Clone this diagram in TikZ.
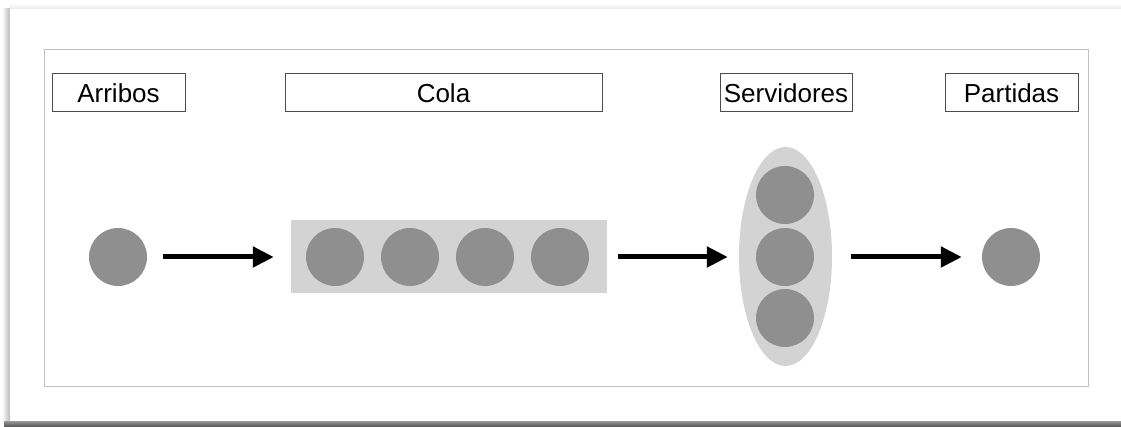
\documentclass[tikz,border=0pt]{standalone}
\usepackage{fontspec}
\setmainfont{Liberation Sans}
\usetikzlibrary{arrows.meta,shapes.geometric}
\definecolor{dotgray}{HTML}{8F8F8F}
\definecolor{lightgray}{HTML}{D3D3D3}
\definecolor{framegray}{HTML}{C0C0C0}
\tikzset{
  label box/.style={draw=black!70, line width=0.8pt, rectangle, minimum height=38pt,
    inner sep=0pt, text height=21pt, text depth=0pt,
    font=\fontsize{26}{30}\selectfont},
  dot/.style={circle, fill=dotgray, minimum size=58pt, inner sep=0pt},
  flow/.style={line width=5pt, -{Triangle[length=21pt,width=20pt]}},
}
\begin{document}
\begin{tikzpicture}[x=1pt,y=-1pt]
\useasboundingbox (0,0) rectangle (1121,427);
% background and page shadow
\fill[white] (0,0) rectangle (1121,427);
\shade[left color=white, right color=black!28] (2,9) rectangle (10,421);
\shade[top color=white, bottom color=black!8] (10,3) rectangle (1121,9);
\shade[top color=black!40, bottom color=black!68] (4,421) rectangle (1121,427);
\fill[white] (10,9) rectangle (1121,421);
% inner frame
\draw[framegray, line width=0.9pt] (44,49) rectangle (1088,386);
% labels
\node[label box, minimum width=133pt] (arribos) at (118.5,92) {Arribos};
\node[label box, minimum width=317pt] (cola) at (443.5,92) {Cola};
\node[label box, minimum width=132pt] (servidores) at (786,92) {Servidores};
\node[label box, minimum width=133pt] (partidas) at (1011.5,92) {Partidas};
% arrival
\node[dot] (arr) at (118,257) {};
% queue
\node[rectangle, fill=lightgray, minimum width=316pt, minimum height=73pt, inner sep=0pt] (queue) at (449,256.5) {};
\node[dot] (q1) at (335,257) {};
\node[dot] (q2) at (410,257) {};
\node[dot] (q3) at (485,257) {};
\node[dot] (q4) at (560,257) {};
% servers
\node[ellipse, fill=lightgray, minimum width=93pt, minimum height=219pt, inner sep=0pt] (srv) at (785.5,256.5) {};
\node[dot] (s1) at (785,195) {};
\node[dot] (s2) at (785,257) {};
\node[dot] (s3) at (785,318) {};
% departure
\node[dot] (dep) at (1011,257) {};
% arrows
\draw[flow, shorten <=16pt, shorten >=17pt] (arr.east) -- (queue.west |- arr.east);
\draw[flow, shorten <=11pt, shorten >=11pt] (queue.east |- s2) -- (srv.west |- s2);
\draw[flow, shorten <=19pt, shorten >=20pt] (srv.east |- dep) -- (dep.west);
\end{tikzpicture}
\end{document}
